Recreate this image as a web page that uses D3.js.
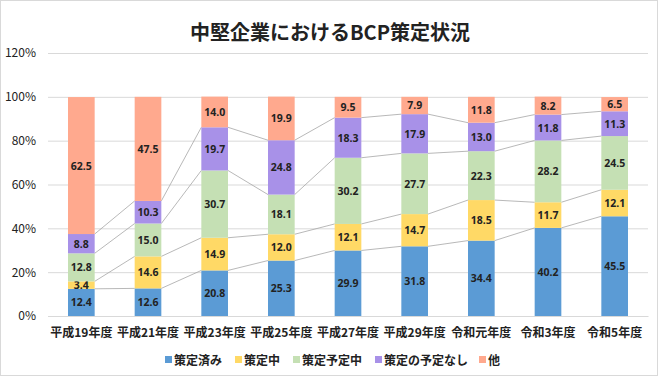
<!DOCTYPE html>
<html><head><meta charset="utf-8">
<script src="https://cdn.jsdelivr.net/npm/d3@7"></script>
<style>body{margin:0;background:#fff;}svg{display:block;font-family:"Noto Sans CJK JP","Noto Sans",sans-serif;}</style>
</head><body><svg id="c" width="660" height="378"></svg>
<script>
const categories = ["平成19年度","平成21年度","平成23年度","平成25年度","平成27年度","平成29年度","令和元年度","令和3年度","令和5年度"];
const seriesNames = ["策定済み","策定中","策定予定中","策定の予定なし","他"];
const done     = [12.4,12.6,20.8,25.3,29.9,31.8,34.4,40.2,45.5];
const inProg   = [3.4,14.6,14.9,12.0,12.1,14.7,18.5,11.7,12.1];
const planned  = [12.8,15.0,30.7,18.1,30.2,27.7,22.3,28.2,24.5];
const noPlan   = [8.8,10.3,19.7,24.8,18.3,17.9,13.0,11.8,11.3];
const other    = [62.5,47.5,14.0,19.9,9.5,7.9,11.8,8.2,6.5];
const yTicks = [0,20,40,60,80,100,120];
const colors = ["#5B9BD5","#FFD966","#C5E0B4","#A891E8","#FFA98E"];

const svg = d3.select("#c");
svg.append("rect").attr("x",0.5).attr("y",0.5).attr("width",657).attr("height",375)
  .attr("fill","#fff").attr("stroke","#d9d9d9");

svg.append("text").attr("x",330).attr("y",40).attr("text-anchor","middle")
  .attr("font-size",20).attr("font-weight","bold").attr("fill","#222").text("中堅企業におけるBCP策定状況");

const x = d3.scaleBand().domain(categories).range([48,648]).paddingInner(0.6).paddingOuter(0.3);
const y = d3.scaleLinear().domain([0,120]).range([316,53]);

// grid
svg.append("g").selectAll("line").data(yTicks).join("line")
  .attr("x1",48).attr("x2",648).attr("y1",d=>y(d)+0.5).attr("y2",d=>y(d)+0.5)
  .attr("stroke","#d9d9d9").attr("stroke-width",1);

const yAxis = svg.append("g").attr("transform","translate(48,0)")
  .call(d3.axisLeft(y).tickValues(yTicks).tickFormat(d=>d+"%").tickSize(0).tickPadding(12));
yAxis.select(".domain").remove();
yAxis.selectAll("text").attr("font-size",12).attr("fill","#222").attr("font-family","\"Noto Sans CJK JP\",sans-serif");

const xAxis = svg.append("g").attr("transform","translate(0,316)")
  .call(d3.axisBottom(x).tickSize(0).tickPadding(12));
xAxis.select(".domain").attr("stroke","#d9d9d9");
xAxis.selectAll("text").attr("font-size",12).attr("fill","#222").attr("font-weight","bold").attr("font-family","\"Noto Sans CJK JP\",sans-serif");

const data = categories.map((c,i)=>({cat:c, s0:done[i], s1:inProg[i], s2:planned[i], s3:noPlan[i], s4:other[i]}));
const keys = ["s0","s1","s2","s3","s4"];
const stacked = d3.stack().keys(keys)(data);

// connector lines
const lineG = svg.append("g");
stacked.slice(0,4).forEach(layer=>{
  for(let i=0;i<layer.length-1;i++){
    lineG.append("line")
      .attr("x1",x(categories[i])+x.bandwidth()).attr("y1",y(layer[i][1]))
      .attr("x2",x(categories[i+1])).attr("y2",y(layer[i+1][1]))
      .attr("stroke","#a6a6a6").attr("stroke-width",0.8);
  }
});

stacked.forEach((layer,k)=>{
  const g = svg.append("g");
  g.selectAll("rect").data(layer).join("rect")
    .attr("x",d=>x(d.data.cat)).attr("width",x.bandwidth())
    .attr("y",d=>y(d[1])).attr("height",d=>y(d[0])-y(d[1]))
    .attr("fill",colors[k]);
  g.selectAll("text").data(layer).join("text")
    .attr("x",d=>x(d.data.cat)+x.bandwidth()/2)
    .attr("y",d=>(y(d[0])+y(d[1]))/2+4)
    .attr("text-anchor","middle").attr("font-size",10.5).attr("font-weight","bold")
    .attr("fill","#222").attr("font-family","\"Noto Sans\",sans-serif")
    .text(d=>d3.format(".1f")(d.data[keys[k]]));
});

// legend
const legX = [165,235,293,375,479];
const lg = svg.append("g");
seriesNames.forEach((n,i)=>{
  lg.append("rect").attr("x",legX[i]).attr("y",356).attr("width",7).attr("height",7).attr("fill",colors[i]);
  lg.append("text").attr("x",legX[i]+9).attr("y",364.5).attr("font-size",12).attr("font-weight","bold")
    .attr("fill","#222").text(n);
});
</script></body></html>
